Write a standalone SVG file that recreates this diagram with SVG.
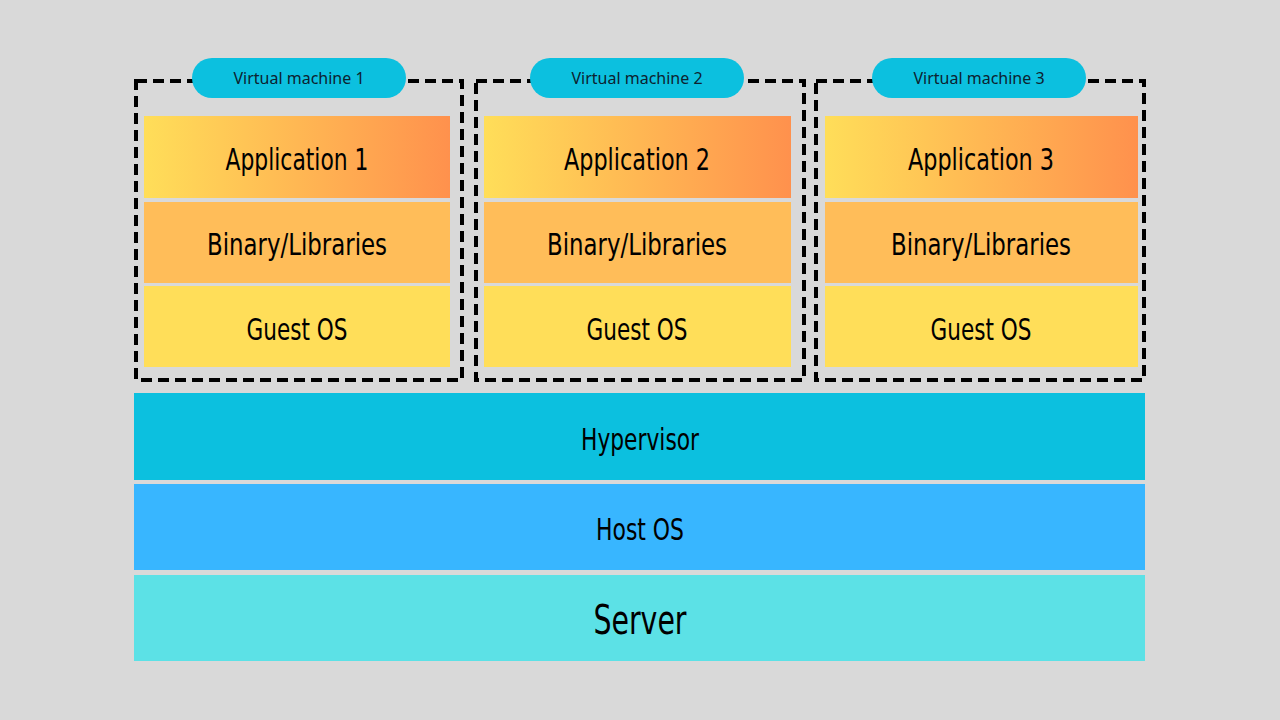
<svg xmlns="http://www.w3.org/2000/svg" width="1280" height="720" viewBox="0 0 1280 720">
<style>
.t{font-family:"DejaVu Sans Condensed","DejaVu Sans",sans-serif;font-stretch:condensed;font-size:30px;fill:#000;text-anchor:middle}
.p{font-family:"Noto Sans","Liberation Sans",sans-serif;font-size:16px;fill:#0d2230;text-anchor:middle}
.dash{fill:none;stroke:#000;stroke-width:4;stroke-dasharray:11 6}
.pill{fill:#0CC0DF}
.bin{fill:#FFBD59}.os{fill:#FFDE59}
</style>
<defs><linearGradient id="g" x1="0" x2="1"><stop offset="0" stop-color="#FFDE59"/><stop offset="1" stop-color="#FF914D"/></linearGradient></defs>
<rect width="1280" height="720" fill="#D9D9D9"/>
<g id="vm1">
<rect class="dash" x="136" y="81" width="326" height="299"/>
<rect class="pill" x="192" y="58" width="214" height="40" rx="20"/>
<text class="p" x="299" y="84">Virtual machine 1</text>
<rect fill="url(#g)" x="144" y="116" width="306" height="82"/>
<text class="t" x="297" y="170" textLength="143" lengthAdjust="spacingAndGlyphs">Application 1</text>
<rect class="bin" x="144" y="202" width="306" height="81"/>
<text class="t" x="297" y="255" textLength="180" lengthAdjust="spacingAndGlyphs">Binary/Libraries</text>
<rect class="os" x="144" y="286" width="306" height="81"/>
<text class="t" x="297" y="340" textLength="101" lengthAdjust="spacingAndGlyphs">Guest OS</text>
</g>
<g id="vm2">
<rect class="dash" x="476" y="81" width="328" height="299"/>
<rect class="pill" x="530" y="58" width="214" height="40" rx="20"/>
<text class="p" x="637" y="84">Virtual machine 2</text>
<rect fill="url(#g)" x="484" y="116" width="307" height="82"/>
<text class="t" x="637" y="170" textLength="146" lengthAdjust="spacingAndGlyphs">Application 2</text>
<rect class="bin" x="484" y="202" width="307" height="81"/>
<text class="t" x="637" y="255" textLength="180" lengthAdjust="spacingAndGlyphs">Binary/Libraries</text>
<rect class="os" x="484" y="286" width="307" height="81"/>
<text class="t" x="637" y="340" textLength="101" lengthAdjust="spacingAndGlyphs">Guest OS</text>
</g>
<g id="vm3">
<rect class="dash" x="816" y="81" width="328" height="299"/>
<rect class="pill" x="872" y="58" width="214" height="40" rx="20"/>
<text class="p" x="979" y="84">Virtual machine 3</text>
<rect fill="url(#g)" x="825" y="116" width="313" height="82"/>
<text class="t" x="981" y="170" textLength="146" lengthAdjust="spacingAndGlyphs">Application 3</text>
<rect class="bin" x="825" y="202" width="313" height="81"/>
<text class="t" x="981" y="255" textLength="180" lengthAdjust="spacingAndGlyphs">Binary/Libraries</text>
<rect class="os" x="825" y="286" width="313" height="81"/>
<text class="t" x="981" y="340" textLength="101" lengthAdjust="spacingAndGlyphs">Guest OS</text>
</g>
<g id="hypervisor"><rect fill="#0CC0DF" x="134" y="393" width="1011" height="87"/>
<text class="t" x="640" y="450" textLength="118" lengthAdjust="spacingAndGlyphs">Hypervisor</text></g>
<g id="hostos"><rect fill="#38B6FF" x="134" y="484" width="1011" height="86"/>
<text class="t" x="640" y="540" textLength="88" lengthAdjust="spacingAndGlyphs">Host OS</text></g>
<g id="server"><rect fill="#5CE1E6" x="134" y="575" width="1011" height="86"/>
<text class="t" x="640" y="634" font-size="40" style="font-size:40px" textLength="93" lengthAdjust="spacingAndGlyphs">Server</text></g>
<g id="connectors"/>
</svg>
